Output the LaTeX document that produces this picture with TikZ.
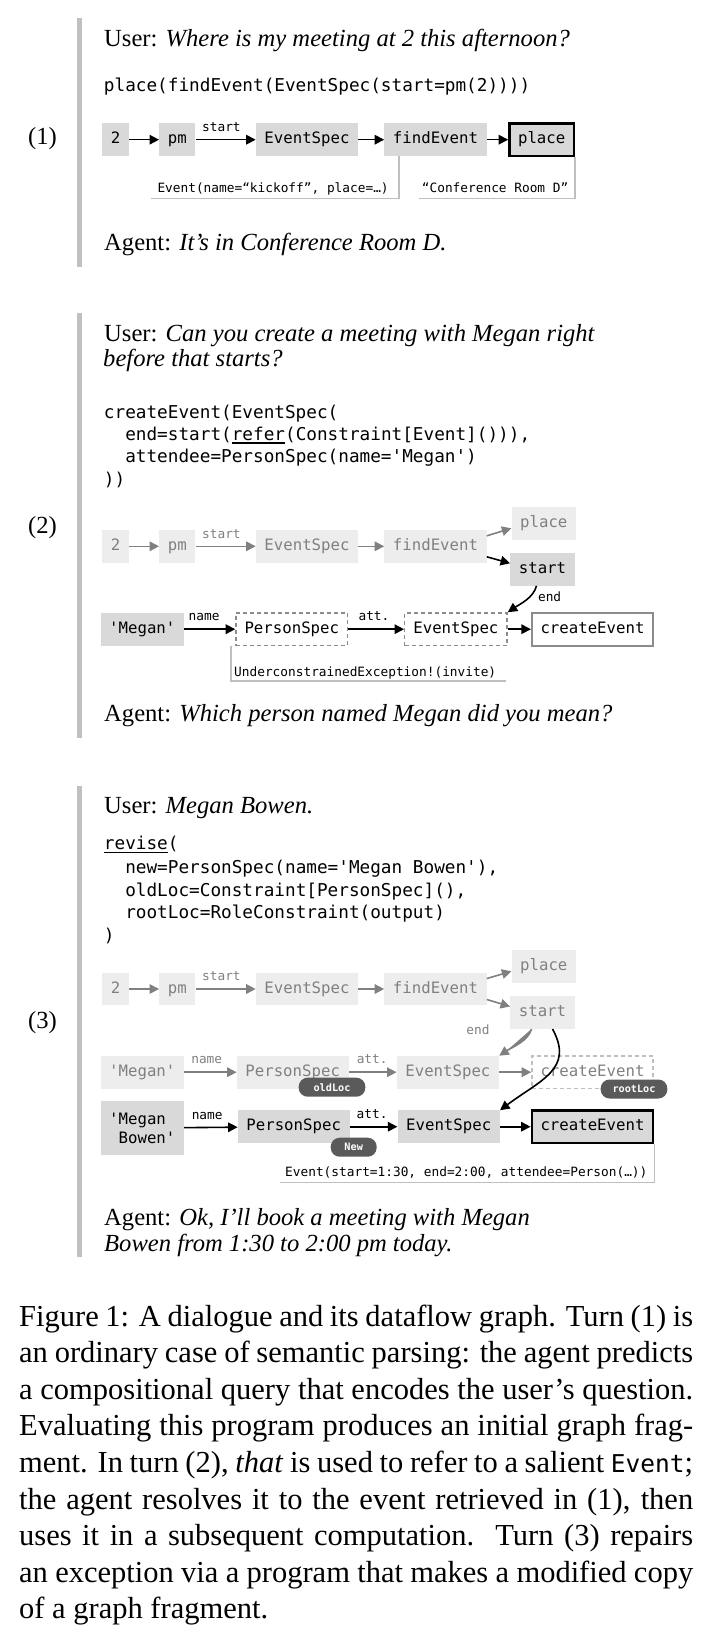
\documentclass[tikz,border=0pt]{standalone}
\usepackage{fontspec}
\setmainfont{Liberation Serif}
\setmonofont{DejaVu Sans Mono}
\usetikzlibrary{arrows.meta,calc}
\definecolor{actfill}{HTML}{D9D9D9}
\definecolor{fadefill}{HTML}{EDEDED}
\definecolor{fadetext}{HTML}{808080}
\definecolor{barc}{HTML}{C0C0C0}
\definecolor{annc}{HTML}{BFBFBF}
\definecolor{pillc}{HTML}{5A5A5A}
\definecolor{dashc}{HTML}{8C8C8C}
\newcommand{\dfont}{\fontsize{24.6}{26}\selectfont}
\newcommand{\cfont}{\fontsize{17.7}{22}\selectfont\ttfamily}
\newcommand{\nfont}{\fontsize{15.7}{19}\selectfont\ttfamily}
\newcommand{\lfont}{\fontsize{12.8}{14}\selectfont\ttfamily}
\newcommand{\pfont}{\fontsize{10.2}{11}\selectfont\ttfamily\bfseries}
\newcommand{\capfont}{\fontsize{30.5}{36.7}\selectfont}
\newcommand{\myul}[1]{\setbox0\hbox{#1}\rlap{\rule[-3.5pt]{\wd0}{1.3pt}}#1}
\newcommand{\sq}{\textquotesingle}
\tikzset{
  gbase/.style={font=\nfont, inner xsep=8.6pt, inner ysep=0pt, minimum height=32.6pt},
  gnode/.style={gbase, text height=11.5pt, text depth=3pt},
  act/.style={gnode, fill=actfill},
  fade/.style={gnode, fill=fadefill, text=fadetext},
  outbox/.style={act, draw=black, line width=2.6pt},
  dashbox/.style={gnode, draw=dashc, dash pattern=on 4pt off 3pt, line width=1.4pt},
  fadedash/.style={gnode, draw=annc, dash pattern=on 4pt off 3pt, line width=1.4pt, text=fadetext},
  plainbox/.style={gnode, draw=dashc, line width=2pt},
  twoline/.style={gbase, fill=actfill, align=left, minimum height=54pt},
  arr/.style={-{Triangle[length=9.5pt,width=9.5pt]}, line width=1.6pt},
  farr/.style={arr, draw=fadetext, fill=fadetext},
  elab/.style={font=\lfont, inner sep=0pt, text height=9pt, text depth=2.5pt, above=5pt},
  flab/.style={elab, text=fadetext},
  endlab/.style={font=\lfont, inner sep=0pt},
  ann/.style={font=\lfont, inner sep=0pt, anchor=base west},
  annline/.style={draw=annc, line width=1.5pt},
  pill/.style={fill=pillc, text=white, font=\pfont, rounded corners=9pt, minimum height=19pt, inner sep=0pt},
  dtext/.style={font=\dfont, inner sep=0pt, anchor=base west},
  ctext/.style={font=\cfont, inner sep=0pt, anchor=base west},
  turn/.style={font=\dfont, inner sep=0pt},
  capline/.style={font=\capfont, inner sep=0pt, anchor=base west},
}
\begin{document}
\begin{tikzpicture}[x=1pt, y=-1pt]
\useasboundingbox (0,0) rectangle (710,1632);

% side bars
\fill[barc] (77.3,18.3) rectangle (82,266.7);
\fill[barc] (77.3,313.3) rectangle (82,738.3);
\fill[barc] (77.3,785.7) rectangle (82,1256.7);

% turn labels
\node[turn] (t1) at (42.5,138.5) {(1)};
\node[turn] (t2) at (42.5,528) {(2)};
\node[turn] (t3) at (42.5,1023) {(3)};

% ---------------- Panel 1 ----------------
\node[dtext] (u1) at (104,46.7) {User: \textit{Where is my meeting at 2 this afternoon?}};
\node[ctext] (c1) at (103.75,91.7) {place(findEvent(EventSpec(start=pm(2))))};

\node[act] (p1n2) at (115.7,139.7) {2};
\node[act] (p1pm) at (177.3,139.7) {pm};
\node[act] (p1es) at (307,139.7) {EventSpec};
\node[act] (p1fe) at (435.5,139.7) {findEvent};
\node[outbox] (p1pl) at (541.7,139.7) {place};
\draw[arr] (p1n2) -- (p1pm);
\draw[arr] (p1pm) -- node[elab,pos=0.43] {start} (p1es);
\draw[arr] (p1es) -- (p1fe);
\draw[arr] (p1fe) -- (p1pl);

\node[ann] (p1a1) at (157.3,192.7) {Event(name=“kickoff”, place=…)};
\node[ann] (p1a2) at (421.7,192.7) {“Conference Room D”};
\draw[annline] ([xshift=15pt]p1fe.south west) |- ($(p1a1.base west)+(-6.3,5.6)$);
\draw[annline] (p1pl.south east) |- ($(p1a2.base west)+(-2.4,5.6)$);

\node[dtext] (g1) at (104,250) {Agent: \textit{It’s in Conference Room D.}};

% ---------------- Panel 2 ----------------
\node[dtext] (u2a) at (104,341.7) {User: \textit{Can you create a meeting with Megan right}};
\node[dtext] (u2b) at (103,366.7) {\textit{before that starts?}};
\node[ctext] (c2a) at (103.75,418.3) {createEvent(EventSpec(};
\node[ctext] (c2b) at (103.75,440) {\phantom{xx}end=start(\myul{refer}(Constraint[Event]())),};
\node[ctext] (c2c) at (103.75,462.7) {\phantom{xx}attendee=PersonSpec(name=\sq Megan\sq)};
\node[ctext] (c2d) at (103.75,485) {))};

\node[fade] (p2n2) at (115.7,546.3) {2};
\node[fade] (p2pm) at (177.3,546.3) {pm};
\node[fade] (p2es) at (307,546.3) {EventSpec};
\node[fade] (p2fe) at (435.5,546.3) {findEvent};
\node[fade] (p2pl) at (543.8,523.3) {place};
\node[act] (p2st) at (542.5,569.3) {start};
\draw[farr] (p2n2) -- (p2pm);
\draw[farr] (p2pm) -- node[flab,pos=0.43] {start} (p2es);
\draw[farr] (p2es) -- (p2fe);
\draw[farr] ([yshift=10.5pt]p2fe.east) -- ([yshift=-5pt]p2pl.west);
\draw[arr] ([yshift=-10.5pt]p2fe.east) -- ([yshift=6pt]p2st.west);

\node[act] (p2mg) at (142.3,629.2) {\sq Megan\sq};
\node[dashbox] (p2ps) at (291.8,629.2) {PersonSpec};
\node[dashbox] (p2es2) at (455.9,629.2) {EventSpec};
\node[plainbox] (p2ce) at (592.5,629.2) {createEvent};
\draw[arr] (p2mg) -- node[elab,pos=0.39] {name} (p2ps);
\draw[arr] (p2ps) -- node[elab,pos=0.46] {att.} (p2es2);
\draw[arr] (p2es2) -- (p2ce);
\draw[arr] ([xshift=-6pt]p2st.south) .. controls +(-3,12) and +(12,-8) .. (p2es2.north east);
\node[endlab] (p2end) at (549.6,596.7) {end};

\node[ann] (p2a) at (234,676) {UnderconstrainedException!(invite)};
\draw[annline] ([xshift=-4pt]p2ps.south west) |- ($(p2a.base east)+(9.5,5)$);

\node[dtext] (g2) at (104,721.7) {Agent: \textit{Which person named Megan did you mean?}};

% ---------------- Panel 3 ----------------
\node[dtext] (u3) at (104,813.3) {User: \textit{Megan Bowen.}};
\node[ctext] (c3a) at (103.75,849.3) {\myul{revise}(};
\node[ctext] (c3b) at (103.75,873.3) {\phantom{xx}new=PersonSpec(name=\sq Megan Bowen\sq),};
\node[ctext] (c3c) at (103.75,896.7) {\phantom{xx}oldLoc=Constraint[PersonSpec](),};
\node[ctext] (c3d) at (103.75,918.3) {\phantom{xx}rootLoc=RoleConstraint(output)};
\node[ctext] (c3e) at (103.75,941.7) {)};

\node[fade] (p3n2) at (115.7,989) {2};
\node[fade] (p3pm) at (177.3,989) {pm};
\node[fade] (p3es) at (307,989) {EventSpec};
\node[fade] (p3fe) at (435.5,989) {findEvent};
\node[fade] (p3pl) at (543.8,966.3) {place};
\node[fade] (p3st) at (542.5,1012.5) {start};
\draw[farr] (p3n2) -- (p3pm);
\draw[farr] (p3pm) -- node[flab,pos=0.43] {start} (p3es);
\draw[farr] (p3es) -- (p3fe);
\draw[farr] ([yshift=10.5pt]p3fe.east) -- ([yshift=-5pt]p3pl.west);
\draw[farr] ([yshift=-10.5pt]p3fe.east) -- ([yshift=6pt]p3st.west);

\node[fade] (p3mg) at (142.3,1072.2) {\sq Megan\sq};
\node[fade] (p3ps) at (292.7,1072.2) {PersonSpec};
\node[fade] (p3eo) at (447.9,1072.2) {EventSpec};
\node[fadedash] (p3co) at (592.5,1072.2) {createEvent};
\draw[farr] (p3mg) -- node[flab,pos=0.43] {name} (p3ps);
\draw[farr] (p3ps) -- node[flab,pos=0.49] {att.} (p3eo);
\draw[farr] (p3eo) -- (p3co);
\draw[farr] ([xshift=-11pt]p3st.south) .. controls +(-3,12) and +(12,-8) .. (p3eo.north east);
\node[endlab, text=fadetext] (p3end) at (478,1030) {end};

\node[twoline] (p3mb) at (142.3,1128) {\sq Megan\\\phantom{x}Bowen\sq};
\node[act] (p3pn) at (293.7,1126.7) {PersonSpec};
\node[act] (p3en) at (448.7,1126.7) {EventSpec};
\node[outbox] (p3cn) at (592.5,1126.7) {createEvent};
\draw[arr] (p3mb) -- node[elab,pos=0.43] {name} (p3pn);
\draw[arr] (p3pn) -- node[elab,pos=0.47] {att.} (p3en);
\draw[arr] (p3en) -- (p3cn);
\draw[arr] ([xshift=10pt]p3st.south) .. controls +(22,40) and +(40,-30) .. (p3en.north east);

\node[pill, minimum width=66.7pt] (ol) at (332,1087.2) {oldLoc};
\node[pill, minimum width=66.7pt] (rl) at (634,1089) {rootLoc};
\node[pill, minimum width=46pt] (nw) at (353.7,1147.2) {New};

\node[ann] (p3a) at (285,1176.7) {Event(start=1:30, end=2:00, attendee=Person(…))};
\draw[annline] (p3cn.south east) |- ($(p3a.base west)+(-5.4,6)$);

\node[dtext] (g3a) at (104,1225) {Agent: \textit{Ok, I’ll book a meeting with Megan}};
\node[dtext] (g3b) at (104,1251.7) {\textit{Bowen from 1:30 to 2:00 pm today.}};

% ---------------- Caption ----------------
\node[capline] (cap1) at (19,1326) {\makebox[674pt][s]{Figure 1: A dialogue and its dataflow graph. Turn (1) is}};
\node[capline] (cap2) at (19,1362.6) {\makebox[674pt][s]{an ordinary case of semantic parsing: the agent predicts}};
\node[capline] (cap3) at (19,1399.2) {\makebox[674pt][s]{a compositional query that encodes the user’s question.}};
\node[capline] (cap4) at (19,1435.8) {\makebox[674pt][s]{Evaluating this program produces an initial graph frag-}};
\node[capline] (cap5) at (19,1472.4) {\makebox[674pt][s]{ment. In turn (2), \textit{that} is used to refer to a salient {\fontsize{24.5}{30}\selectfont\ttfamily Event};}};
\node[capline] (cap6) at (19,1509) {\makebox[674pt][s]{the agent resolves it to the event retrieved in (1), then}};
\node[capline] (cap7) at (19,1545.6) {\makebox[674pt][s]{uses it in a subsequent computation.\ \ Turn (3) repairs}};
\node[capline] (cap8) at (19,1582.2) {\makebox[674pt][s]{an exception via a program that makes a modified copy}};
\node[capline] (cap9) at (19,1618.8) {of a graph fragment.};
\end{tikzpicture}
\end{document}
